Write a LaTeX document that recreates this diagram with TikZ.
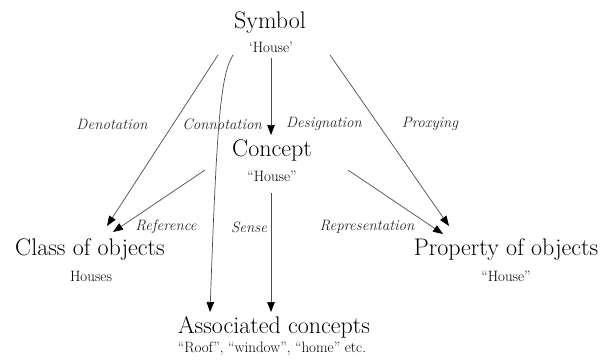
\documentclass[tikz,border=0pt]{standalone}
\usetikzlibrary{arrows.meta}
\begin{document}
\begin{tikzpicture}[x=1pt,y=-1pt,
  big/.style={inner sep=0pt,font=\fontsize{24}{26}\selectfont},
  small/.style={inner sep=0pt,font=\fontsize{15}{17}\selectfont},
  lab/.style={inner sep=0pt,font=\fontsize{15}{17}\selectfont\itshape,text=black!85},
  conn/.style={draw=black!70,line width=0.7pt,-{Triangle[length=10pt,width=7.5pt,color=black]}}]
\useasboundingbox (0,0) rectangle (601,360);
% main nodes
\node[big] (sym) at (270,23) {Symbol};
\node[small] (symh) at (271,47) {`House'};
\node[big] (con) at (272,150) {Concept};
\node[small] (conh) at (272,176) {``House''};
\node[big] (cls) at (90,250) {Class of objects};
\node[small] (clsh) at (91,276) {Houses};
\node[big] (prop) at (506,250) {Property of objects};
\node[small] (proph) at (506,276) {``House''};
\node[big] (ass) at (274,327) {Associated concepts};
\node[small] (assh) at (272,349) {``Roof'', ``window'', ``home'' etc.};
% labels
\node[lab] (ldeno) at (112,124) {Denotation};
\node[lab] (lconn) at (222,124) {Connotation};
\node[lab] (ldes) at (324,124) {Designation};
\node[lab] (lprox) at (430,124) {Proxying};
\node[lab] (lref) at (166,227) {Reference};
\node[lab] (lsense) at (249,227) {Sense};
\node[lab] (lrep) at (367,227) {Representation};
% connector end points
\coordinate (d1) at (218,55);   \coordinate (d2) at (107,226);
\coordinate (c1) at (233,55);   \coordinate (c2) at (210,312);
\coordinate (g1) at (271,58);   \coordinate (g2) at (271,135);
\coordinate (p1) at (330,55);   \coordinate (p2) at (449,226);
\coordinate (r1) at (205,170);  \coordinate (r2) at (113,232);
\coordinate (s1) at (271,193);  \coordinate (s2) at (271,312);
\coordinate (e1) at (348,170);  \coordinate (e2) at (443,234);
% connectors
\draw[conn] (d1) -- (d2);
\draw[conn] (c1) .. controls (221,75) and (217,115) .. (c2);
\draw[conn] (g1) -- (g2);
\draw[conn] (p1) -- (p2);
\draw[conn] (r1) -- (r2);
\draw[conn] (s1) -- (s2);
\draw[conn] (e1) -- (e2);
\end{tikzpicture}
\end{document}
